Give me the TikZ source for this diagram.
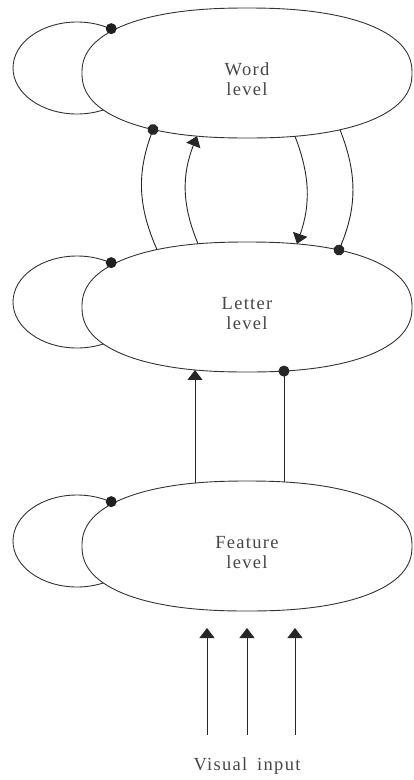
\documentclass[tikz,border=0pt]{standalone}
\usepackage{fontspec}
\setmainfont{Liberation Serif}[LetterSpace=7]
\usetikzlibrary{arrows.meta,shapes.geometric,calc}
% point on the rim of a level shape: name, centre, dx, -1 top / +1 bottom
\newcommand\onrim[4]{\path (#2) ++(#3,{#4*65*pow(1-pow(abs(#3)/165,2.3),1/2.3)}) coordinate (#1);}
\newcommand\rimshape[1]{\begin{scope}[shift={(#1)}]
  \draw[rim] plot[domain=1:361,samples=181]
   ({165*cos(\x)/abs(cos(\x))*pow(abs(cos(\x)),0.8696)},
    {65*sin(\x)/abs(sin(\x))*pow(abs(sin(\x)),0.8696)}) -- cycle;
  \end{scope}}
\tikzset{
  rim/.style={draw=black!80, fill=white},
  loopring/.style={ellipse, draw=black!80, minimum width=128pt, minimum height=92pt, inner sep=0pt},
  lvl/.style={align=center, inner sep=0pt, text=black!72, font=\fontsize{18.5}{20}\selectfont},
  conn/.style={draw=black!85},
  excite/.style={conn, -{Triangle[width=15pt,length=10pt]}},
  inhib/.style={conn, -{Circle[length=11pt]}, shorten >=-5.5pt},
  knob/.style={fill=black!88}
}
\begin{document}
\begin{tikzpicture}[x=1pt, y=-1pt, line width=0.9pt]
\useasboundingbox (0,0) rectangle (414,780);
\coordinate (Wc) at (247,73);
\coordinate (Lc) at (247,307);
\coordinate (Fc) at (247,546);
% self loops
\node[loopring] (wl) at (77,68) {};
\node[loopring] (ll) at (77,302) {};
\node[loopring] (fl) at (77,541) {};
% level shapes
\rimshape{Wc}
\rimshape{Lc}
\rimshape{Fc}
% labels
\node[lvl] (word) at (247,79.5) {Word\\level};
\node[lvl] (letter) at (247,313.5) {Letter\\level};
\node[lvl] (feature) at (247,552.5) {Feature\\level};
\node[lvl, anchor=base] (visual) at (247,770) {Visual\hspace{10pt}input};
% loop dots
\fill[knob] (wl.49) circle (5.5);
\fill[knob] (ll.49) circle (5.5);
\fill[knob] (fl.49) circle (5.5);
% rim points
\onrim{wb1}{Wc}{-94}{1}
\onrim{lt1}{Lc}{-90}{-1}
\onrim{wb2}{Wc}{-50}{1}
\onrim{lt2}{Lc}{-49}{-1}
\onrim{wb3}{Wc}{48}{1}
\onrim{lt3}{Lc}{50}{-1}
\onrim{wb4}{Wc}{93}{1}
\onrim{lt4}{Lc}{92}{-1}
\onrim{lb1}{Lc}{-52}{1}
\onrim{ft1}{Fc}{-52}{-1}
\onrim{lb2}{Lc}{37}{1}
\onrim{ft2}{Fc}{37}{-1}
% word <-> letter
\draw[inhib] (lt1) to[bend left=22] (wb1);
\draw[excite] (lt2) to[bend left=22] (wb2);
\draw[excite] (wb3) to[bend left=20] (lt3);
\draw[inhib] (wb4) to[bend left=22] (lt4);
% feature -> letter
\draw[excite] (ft1) -- (lb1);
\draw[inhib] (ft2) -- (lb2);
% visual input
\coordinate (v1a) at (207,735); \coordinate (v1b) at (207,628);
\coordinate (v2a) at (247,735); \coordinate (v2b) at (247,628);
\coordinate (v3a) at (295,735); \coordinate (v3b) at (295,628);
\draw[excite] (v1a) -- (v1b);
\draw[excite] (v2a) -- (v2b);
\draw[excite] (v3a) -- (v3b);
\end{tikzpicture}
\end{document}
